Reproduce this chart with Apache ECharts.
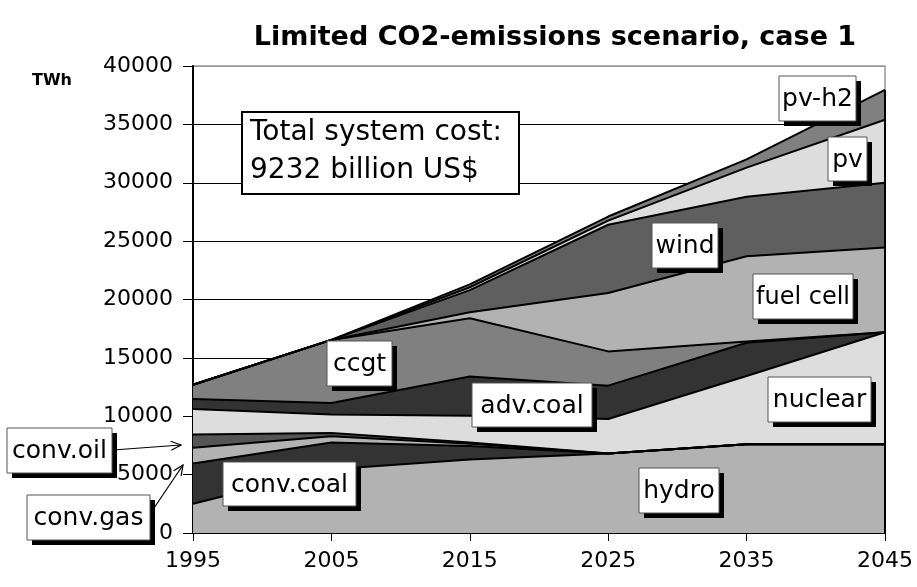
<!DOCTYPE html>
<html>
<head>
<meta charset="utf-8">
<script src="https://cdn.jsdelivr.net/npm/echarts@6/dist/echarts.min.js"></script>
<style>
  html, body { margin: 0; padding: 0; background: #fff; }
  #chart { width: 917px; height: 587px; }
</style>
</head>
<body>
<div id="chart"></div>
<script>
// Electricity production by source, TWh (stacked)
const years = ['1995', '2005', '2015', '2025', '2035', '2045'];
const hydro    = [2500, 5450, 6300, 6800, 7600, 7600];
const convCoal = [3450, 2300, 1150,    0,    0,    0];
const convGas  = [1350,  530,  200,    0,    0,    0];
const convOil  = [1130,  290,  100,    0,    0,    0];
const nuclear  = [2200, 1570, 2300, 2970, 5850, 9600];
const advCoal  = [ 850, 1000, 3350, 2850, 2850,    0];
const ccgt     = [1220, 5400, 5000, 2935,  100,    0];
const fuelCell = [   0,    0,  500, 5000, 7300, 7250];
const wind     = [   0,    0, 1900, 5850, 5100, 5550];
const pv       = [   0,    0,  250,  350, 2500, 5400];
const pvH2     = [   0,    0,  250,  350,  700, 2550];
const yTicks = { min: 0, max: 40000, step: 5000 };

const layers = [
  { name: 'hydro',     data: hydro,    color: '#b2b2b2' },
  { name: 'conv.coal', data: convCoal, color: '#333333' },
  { name: 'conv.gas',  data: convGas,  color: '#b2b2b2' },
  { name: 'conv.oil',  data: convOil,  color: '#555555' },
  { name: 'nuclear',   data: nuclear,  color: '#dddddd' },
  { name: 'adv.coal',  data: advCoal,  color: '#333333' },
  { name: 'ccgt',      data: ccgt,     color: '#808080' },
  { name: 'fuel cell', data: fuelCell, color: '#b2b2b2' },
  { name: 'wind',      data: wind,     color: '#5f5f5f' },
  { name: 'pv',        data: pv,       color: '#dddddd' },
  { name: 'pv-h2',     data: pvH2,     color: '#808080' }
];

const FONT = '"DejaVu Sans", sans-serif';
const TOP_Z = 100;

// Boxed labels with a drop shadow
const boxes = [
  { text: 'pv-h2',     x: 779, y: 76,  w: 77,  h: 45 },
  { text: 'pv',        x: 828, y: 137, w: 39,  h: 44 },
  { text: 'wind',      x: 652, y: 223, w: 66,  h: 45 },
  { text: 'fuel cell', x: 753, y: 274, w: 100, h: 45, size: 24 },
  { text: 'ccgt',      x: 327, y: 341, w: 65,  h: 45 },
  { text: 'adv.coal',  x: 472, y: 383, w: 120, h: 44 },
  { text: 'nuclear',   x: 768, y: 377, w: 103, h: 45 },
  { text: 'hydro',     x: 639, y: 468, w: 80,  h: 45 },
  { text: 'conv.coal', x: 223, y: 462, w: 133, h: 44 },
  { text: 'conv.oil',  x: 7,   y: 428, w: 105, h: 45 },
  { text: 'conv.gas',  x: 27,  y: 495, w: 123, h: 45 }
];

function boxGraphic(b) {
  return [
    { type: 'rect', z: TOP_Z, shape: { x: b.x + 5, y: b.y + 5, width: b.w, height: b.h },
      style: { fill: '#000' } },
    { type: 'rect', z: TOP_Z + 1, shape: { x: b.x, y: b.y, width: b.w, height: b.h },
      style: { fill: '#fff', stroke: '#555', lineWidth: 1 } },
    { type: 'text', z: TOP_Z + 2, style: {
        text: b.text, x: b.x + b.w / 2, y: b.y + b.h / 2 + 1,
        fill: '#000', font: (b.size || 25) + 'px ' + FONT,
        align: 'center', verticalAlign: 'middle' } }
  ];
}

function arrowGraphic(x1, y1, x2, y2) {
  const a = Math.atan2(y2 - y1, x2 - x1);
  const L = 11, s = 0.42;
  return [
    { type: 'line', z: TOP_Z, shape: { x1, y1, x2, y2 }, style: { stroke: '#000', lineWidth: 1.2 } },
    { type: 'polyline', z: TOP_Z, shape: { points: [
        [x2 - L * Math.cos(a - s), y2 - L * Math.sin(a - s)],
        [x2, y2],
        [x2 - L * Math.cos(a + s), y2 - L * Math.sin(a + s)] ] },
      style: { stroke: '#000', lineWidth: 1.2, fill: null } }
  ];
}

let graphics = [
  { type: 'text', z: TOP_Z, style: {
      text: 'Limited CO2-emissions scenario, case 1', x: 555, y: 38,
      font: 'bold 27px ' + FONT, fill: '#000', align: 'center', verticalAlign: 'middle' } },
  { type: 'text', z: TOP_Z, style: {
      text: 'TWh', x: 52, y: 81, font: 'bold 16px ' + FONT, fill: '#000',
      align: 'center', verticalAlign: 'middle' } },
  { type: 'rect', z: TOP_Z, shape: { x: 242, y: 112, width: 277, height: 82 },
    style: { fill: '#fff', stroke: '#000', lineWidth: 2 } },
  { type: 'text', z: TOP_Z + 1, style: { text: 'Total system cost:', x: 250, y: 133,
      font: '28px ' + FONT, fill: '#000', align: 'left', verticalAlign: 'middle' } },
  { type: 'text', z: TOP_Z + 1, style: { text: '9232 billion US$', x: 250, y: 171,
      font: '28px ' + FONT, fill: '#000', align: 'left', verticalAlign: 'middle' } }
];
graphics = graphics
  .concat(arrowGraphic(113, 450, 181, 445))
  .concat(arrowGraphic(152, 511, 183, 465));
boxes.forEach(b => { graphics = graphics.concat(boxGraphic(b)); });

const splitColors = [];
for (let v = yTicks.min; v <= yTicks.max; v += yTicks.step) {
  splitColors.push(v === yTicks.max ? '#999' : '#000');
}

const chart = echarts.init(document.getElementById('chart'), null, { renderer: 'canvas' });

const option = {
  animation: false,
  backgroundColor: '#fff',
  grid: {
    left: 193, right: 32, top: 66, bottom: 54,
    show: true, borderColor: '#999', borderWidth: 1.5, backgroundColor: 'transparent'
  },
  xAxis: {
    type: 'category',
    data: years,
    boundaryGap: false,
    axisLine: { lineStyle: { color: '#000', width: 1.5 } },
    axisTick: { show: true, length: 8, alignWithLabel: true, lineStyle: { color: '#000', width: 1 } },
    axisLabel: { color: '#000', fontSize: 22, fontFamily: FONT, margin: 17 },
    splitLine: { show: false }
  },
  yAxis: {
    type: 'value',
    min: yTicks.min, max: yTicks.max, interval: yTicks.step,
    axisLine: { show: true, lineStyle: { color: '#000', width: 2 } },
    axisTick: { show: true, length: 10, lineStyle: { color: '#000', width: 1 } },
    axisLabel: { color: '#000', fontSize: 22, fontFamily: FONT, margin: 20,
                 formatter: v => String(v) },
    splitLine: { show: true, lineStyle: { color: splitColors, width: 1 } }
  },
  series: layers.map((l, i) => ({
    name: l.name,
    type: 'line',
    stack: 'total',
    data: l.data,
    symbol: 'none',
    smooth: false,
    z: 2,
    lineStyle: { color: '#000', width: 2 },
    areaStyle: { color: l.color, opacity: 1 },
    emphasis: { disabled: true },
    silent: true
  }))
};

chart.setOption(option);

// Right-hand edge of the stacked areas
const lastIdx = years.length - 1;
const total = layers.reduce((s, l) => s + l.data[lastIdx], 0);
const pTop = chart.convertToPixel({ gridIndex: 0 }, [years[lastIdx], total]);
const pBot = chart.convertToPixel({ gridIndex: 0 }, [years[lastIdx], 0]);
graphics.push({
  type: 'line', z: 50,
  shape: { x1: pTop[0], y1: pTop[1], x2: pBot[0], y2: pBot[1] },
  style: { stroke: '#000', lineWidth: 2 }
});
chart.setOption({ graphic: { elements: graphics } });
</script>
</body>
</html>
